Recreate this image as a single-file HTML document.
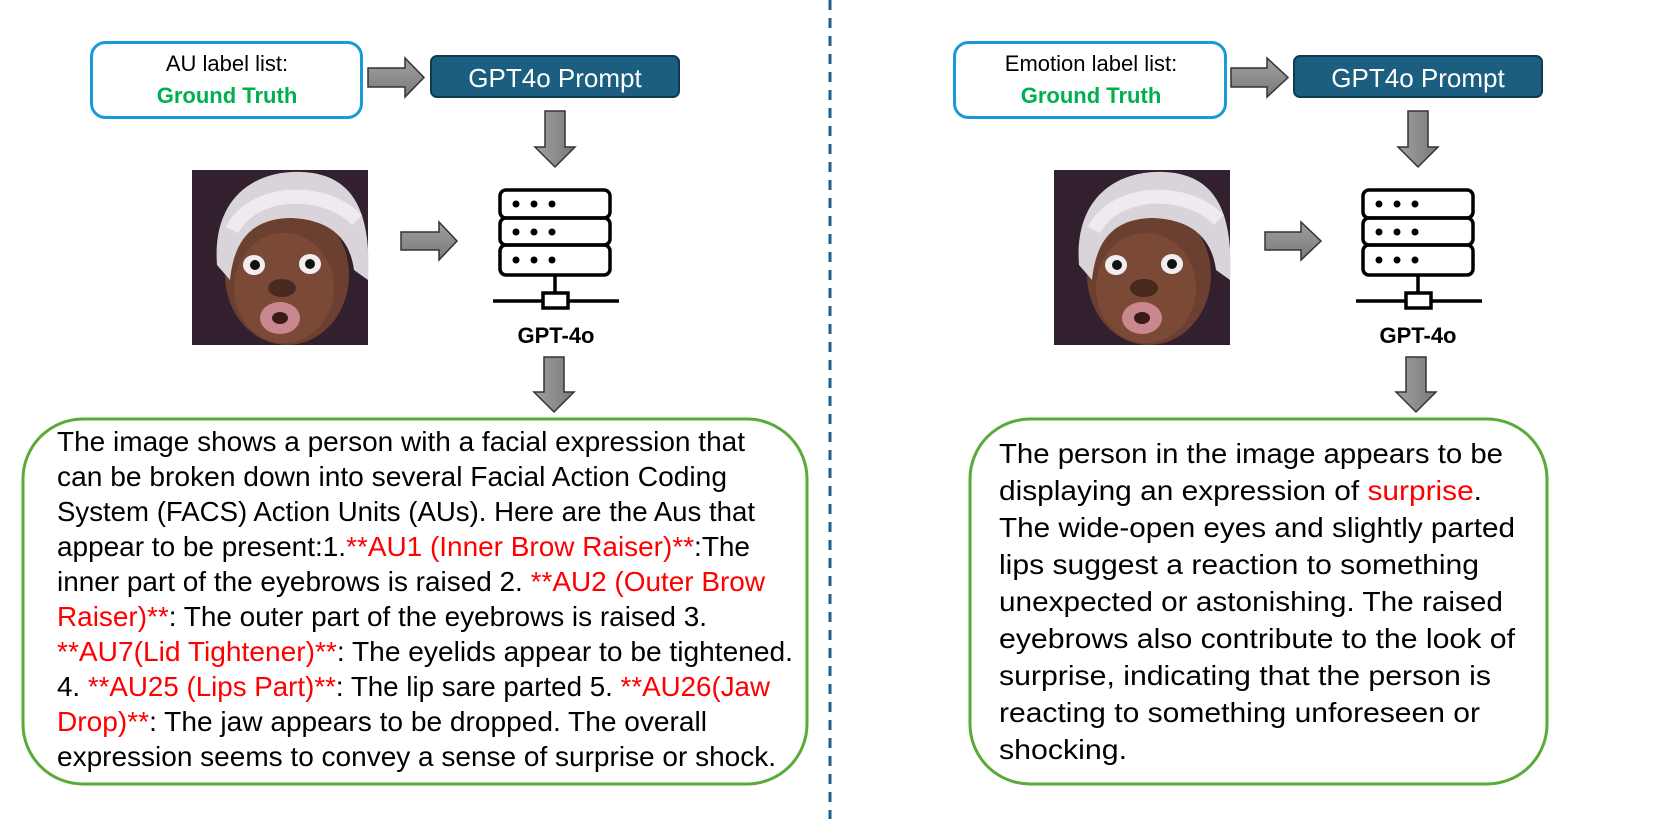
<!DOCTYPE html>
<html><head><meta charset="utf-8"><style>
html,body{margin:0;padding:0;background:#fff;}
svg{display:block;}
text{font-family:"Liberation Sans",sans-serif;}
</style></head><body>
<svg width="1661" height="819" viewBox="0 0 1661 819" xmlns="http://www.w3.org/2000/svg">
<defs>
<linearGradient id="ag" x1="0" y1="0" x2="0" y2="1"><stop offset="0" stop-color="#a0a0a0"/><stop offset="1" stop-color="#7a7a7a"/></linearGradient>
<linearGradient id="agh" x1="0" y1="0" x2="1" y2="0"><stop offset="0" stop-color="#a0a0a0"/><stop offset="1" stop-color="#7a7a7a"/></linearGradient>
<g id="face">
<rect x="0" y="0" width="176" height="175" fill="#2a1a26"/>
<rect x="0" y="0" width="176" height="175" fill="#3a2433" opacity="0.6"/>
<ellipse cx="95" cy="105" rx="62" ry="70" fill="#6b4030"/>
<ellipse cx="92" cy="118" rx="50" ry="55" fill="#7a4a36"/>
<path d="M25,95 C20,30 60,0 110,2 C160,4 180,40 176,110 L162,100 C158,70 140,50 100,48 C60,48 42,70 38,110 Z" fill="#d8d4da"/>
<path d="M40,60 C60,20 130,15 165,50" stroke="#eeeaf0" stroke-width="14" fill="none"/>
<ellipse cx="62" cy="95" rx="11" ry="10" fill="#f2eeee"/><circle cx="63" cy="95" r="5" fill="#111"/>
<ellipse cx="118" cy="94" rx="11" ry="10" fill="#f2eeee"/><circle cx="118" cy="94" r="5" fill="#111"/>
<ellipse cx="90" cy="118" rx="14" ry="9" fill="#4a2a20"/>
<ellipse cx="88" cy="148" rx="20" ry="16" fill="#c98890"/>
<ellipse cx="88" cy="148" rx="8" ry="6" fill="#3a1a1a"/>
</g>
<g id="server" fill="none" stroke="#000" stroke-width="3.5">
<rect x="0" y="0" width="110" height="28" rx="6"/>
<rect x="0" y="28" width="110" height="27" rx="6"/>
<rect x="0" y="55" width="110" height="30" rx="6"/>
<line x1="55" y1="85" x2="55" y2="103"/>
<line x1="-7" y1="111" x2="119" y2="111"/>
<rect x="43" y="103" width="25" height="15" fill="#fff"/>
<g fill="#000" stroke="none">
<circle cx="16" cy="14" r="3.5"/><circle cx="34" cy="14" r="3.5"/><circle cx="52" cy="14" r="3.5"/>
<circle cx="16" cy="42" r="3.5"/><circle cx="34" cy="42" r="3.5"/><circle cx="52" cy="42" r="3.5"/>
<circle cx="16" cy="70" r="3.5"/><circle cx="34" cy="70" r="3.5"/><circle cx="52" cy="70" r="3.5"/>
</g>
</g>
</defs>

<!-- divider -->
<line x1="830" y1="0" x2="830" y2="819" stroke="#1f6088" stroke-width="3" stroke-dasharray="10,8"/>

<!-- LEFT -->
<rect x="91.5" y="42.5" width="270" height="75" rx="14" fill="#fff" stroke="#1a9ad6" stroke-width="3"/>
<text x="227" y="71" font-size="22" text-anchor="middle" fill="#000">AU label list:</text>
<text x="227" y="103" font-size="22" font-weight="bold" text-anchor="middle" fill="#00b050">Ground Truth</text>
<path d="M368,68 L405,68 L405,58 L424,77.5 L405,97 L405,87 L368,87 Z" fill="url(#ag)" stroke="#333" stroke-width="1.5"/>
<rect x="431" y="56" width="248" height="41" rx="6" fill="#1b5e80" stroke="#0e3a52" stroke-width="2"/>
<text x="555" y="87" font-size="26" text-anchor="middle" fill="#fff">GPT4o Prompt</text>
<path d="M545,111 L565,111 L565,147 L575,147 L555,167 L535,147 L545,147 Z" fill="url(#agh)" stroke="#333" stroke-width="1.5"/>
<use href="#face" x="192" y="170"/>
<path d="M401,232 L439,232 L439,222 L457,241 L439,260 L439,250 L401,250 Z" fill="url(#ag)" stroke="#333" stroke-width="1.5"/>
<use href="#server" x="500" y="190"/>
<text x="556" y="343" font-size="22" font-weight="bold" text-anchor="middle" fill="#000">GPT-4o</text>
<path d="M544,357 L564,357 L564,392 L574,392 L554,412 L534,392 L544,392 Z" fill="url(#agh)" stroke="#333" stroke-width="1.5"/>
<rect x="23" y="419" width="784" height="365" rx="60" fill="#fff" stroke="#5aaa3a" stroke-width="3"/>
<g font-size="28" fill="#000">
<text x="57" y="451" textLength="688" lengthAdjust="spacingAndGlyphs">The image shows a person with a facial expression that</text>
<text x="57" y="486" textLength="670" lengthAdjust="spacingAndGlyphs">can be broken down into several Facial Action Coding</text>
<text x="57" y="521" textLength="698" lengthAdjust="spacingAndGlyphs">System (FACS) Action Units (AUs). Here are the Aus that</text>
<text x="57" y="556" textLength="693" lengthAdjust="spacingAndGlyphs">appear to be present:1.<tspan fill="#ff0000">**AU1 (Inner Brow Raiser)**</tspan>:The</text>
<text x="57" y="591" textLength="708" lengthAdjust="spacingAndGlyphs">inner part of the eyebrows is raised 2. <tspan fill="#ff0000">**AU2 (Outer Brow</tspan></text>
<text x="57" y="626" textLength="650" lengthAdjust="spacingAndGlyphs"><tspan fill="#ff0000">Raiser)**</tspan>: The outer part of the eyebrows is raised 3.</text>
<text x="57" y="661" textLength="736" lengthAdjust="spacingAndGlyphs"><tspan fill="#ff0000">**AU7(Lid Tightener)**</tspan>: The eyelids appear to be tightened.</text>
<text x="57" y="696" textLength="713" lengthAdjust="spacingAndGlyphs">4. <tspan fill="#ff0000">**AU25 (Lips Part)**</tspan>: The lip sare parted 5. <tspan fill="#ff0000">**AU26(Jaw</tspan></text>
<text x="57" y="731" textLength="650" lengthAdjust="spacingAndGlyphs"><tspan fill="#ff0000">Drop)**</tspan>: The jaw appears to be dropped. The overall</text>
<text x="57" y="766" textLength="719" lengthAdjust="spacingAndGlyphs">expression seems to convey a sense of surprise or shock.</text>
</g>

<!-- RIGHT -->
<rect x="954.5" y="42.5" width="271" height="75" rx="14" fill="#fff" stroke="#1a9ad6" stroke-width="3"/>
<text x="1091" y="71" font-size="22" text-anchor="middle" fill="#000">Emotion label list:</text>
<text x="1091" y="103" font-size="22" font-weight="bold" text-anchor="middle" fill="#00b050">Ground Truth</text>
<path d="M1231,68 L1267,68 L1267,58 L1288,77.5 L1267,97 L1267,87 L1231,87 Z" fill="url(#ag)" stroke="#333" stroke-width="1.5"/>
<rect x="1294" y="56" width="248" height="41" rx="6" fill="#1b5e80" stroke="#0e3a52" stroke-width="2"/>
<text x="1418" y="87" font-size="26" text-anchor="middle" fill="#fff">GPT4o Prompt</text>
<path d="M1408,111 L1428,111 L1428,147 L1438,147 L1418,167 L1398,147 L1408,147 Z" fill="url(#agh)" stroke="#333" stroke-width="1.5"/>
<use href="#face" x="1054" y="170"/>
<path d="M1265,232 L1301,232 L1301,222 L1321,241 L1301,260 L1301,250 L1265,250 Z" fill="url(#ag)" stroke="#333" stroke-width="1.5"/>
<use href="#server" x="1363" y="190"/>
<text x="1418" y="343" font-size="22" font-weight="bold" text-anchor="middle" fill="#000">GPT-4o</text>
<path d="M1406,357 L1426,357 L1426,392 L1436,392 L1416,412 L1396,392 L1406,392 Z" fill="url(#agh)" stroke="#333" stroke-width="1.5"/>
<rect x="970" y="419" width="577" height="365" rx="60" fill="#fff" stroke="#5aaa3a" stroke-width="3"/>
<g font-size="28" fill="#000">
<text x="999" y="463" textLength="504" lengthAdjust="spacingAndGlyphs">The person in the image appears to be</text>
<text x="999" y="500" textLength="483" lengthAdjust="spacingAndGlyphs">displaying an expression of <tspan fill="#ff0000">surprise</tspan>.</text>
<text x="999" y="537" textLength="516" lengthAdjust="spacingAndGlyphs">The wide-open eyes and slightly parted</text>
<text x="999" y="574" textLength="480" lengthAdjust="spacingAndGlyphs">lips suggest a reaction to something</text>
<text x="999" y="611" textLength="504" lengthAdjust="spacingAndGlyphs">unexpected or astonishing. The raised</text>
<text x="999" y="648" textLength="516" lengthAdjust="spacingAndGlyphs">eyebrows also contribute to the look of</text>
<text x="999" y="685" textLength="492" lengthAdjust="spacingAndGlyphs">surprise, indicating that the person is</text>
<text x="999" y="722" textLength="481" lengthAdjust="spacingAndGlyphs">reacting to something unforeseen or</text>
<text x="999" y="759" textLength="128" lengthAdjust="spacingAndGlyphs">shocking.</text>
</g>
</svg>
</body></html>
